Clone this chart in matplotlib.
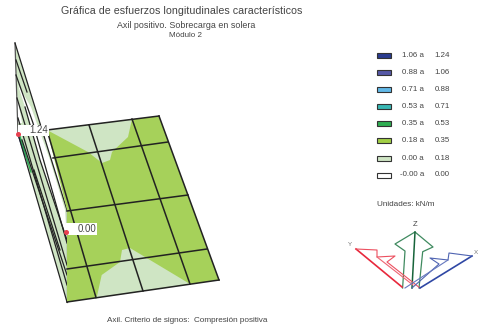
import matplotlib
matplotlib.use('Agg')
import matplotlib.pyplot as plt
from matplotlib.patches import Polygon, Rectangle

plt.rcParams['font.family'] = ['Liberation Sans', 'DejaVu Sans']

# legend
range_low = ['1.06 a', '0.88 a', '0.71 a', '0.53 a', '0.35 a', '0.18 a', '0.00 a', '-0.00 a']
range_high = ['1.24', '1.06', '0.88', '0.71', '0.53', '0.35', '0.18', '0.00']
range_colors = ['#2a3b8f', '#5558a6', '#62b9e8', '#38b8b4', '#2fae52', '#a2cf45', '#cfe5c4', '#ffffff']
legend_y = [55.7, 72.7, 89.3, 106.3, 123.3, 140.7, 158, 175]

# floor slab, picture pixels
floor_shape = [(47, 130), (159, 116), (219, 280), (67, 302), (67, 210)]
floor_light_top = [(47, 130), (132, 119), (128, 137), (112, 152), (110, 160), (102, 163), (88, 152)]
floor_light_bottom = [(96.7, 297.5), (101.7, 275), (120, 262), (122, 250), (130, 248), (190, 284)]
floor_lines = [
    [(47, 130), (159, 116)], [(53, 158), (168, 142)], [(67, 211), (188, 195)],
    [(67, 269), (207, 249)], [(67, 302), (219, 280)], [(159, 116), (219, 280)],
    [(47, 130), (96, 297.5)], [(89, 125), (143, 291)], [(132, 119), (190, 284)],
]

# wall seen edge on
wall_shape = [(15, 43), (67, 210), (67, 302), (18, 134)]
wall_white = [(18, 85), (31, 107), (50, 160), (65, 210), (67, 240), (40, 160), (25, 107)]
wall_white2 = [(16.5, 92), (22, 123), (18, 123)]
wall_lines = [
    [(15, 43), (67, 210)], [(16, 75), (33, 123), (67, 243)], [(17, 98), (67, 265)],
    [(18, 118), (67, 285)], [(18, 134), (67, 302)], [(25, 107), (40, 160), (67, 240)],
    [(16, 60), (27, 92)], [(22, 140), (67, 275)], [(34, 170), (60, 250)],
]
wall_grey = [[(15, 43), (18, 134)], [(67, 210), (67, 302)]]
wall_stripes = [('#2a3b8f', [(18, 134), (25, 156)]), ('#38b8b4', [(19, 134), (28, 163)]),
                ('#2fae52', [(20, 137), (31, 172)])]

# value labels
value_text = ['1.24', '0.00']
value_box = [(17.7, 124.5, 31, 11.5), (65.7, 223.3, 31, 11.7)]
value_dot = [(18, 134), (66, 232.3)]

# axis triad
z_arrow = [(402.6, 288), (405, 251), (395, 244), (415, 232), (433, 247), (422.7, 251.7), (419, 288)]
z_mid = [(415, 232), (412, 288)]
y_outer = [(402, 287), (356, 249)]
y_head = [(356, 249), (377, 250), (377, 257), (395, 256), (387, 262), (420, 288)]
y_mid = [(377, 257), (413, 285)]
x_outer = [(420, 288), (472, 256)]
x_head = [(472, 256), (449, 253), (448, 260), (430, 258), (439, 264), (412, 288)]
x_mid = [(448, 260), (405, 288)]

fig = plt.figure(figsize=(4.78, 3.32), dpi=100)
ax = fig.add_axes([0, 0, 1, 1])
ax.set_xlim(0, 478)
ax.set_ylim(332, 0)
ax.axis('off')

txt = '#444444'

# wall
ax.add_patch(Polygon(wall_shape, fc='#cfe5c4', ec='none', zorder=1))
ax.add_patch(Polygon(wall_white, fc='white', ec='none', zorder=1.2))
ax.add_patch(Polygon(wall_white2, fc='white', ec='none', zorder=1.2))
for c, seg in wall_stripes:
    ax.plot(*zip(*seg), color=c, lw=1.0, zorder=1.3)
for seg in wall_grey:
    ax.plot(*zip(*seg), color='#555555', lw=0.9, zorder=1.4)
for seg in wall_lines:
    ax.plot(*zip(*seg), color='#222222', lw=0.9, zorder=1.5)

# floor
ax.add_patch(Polygon(floor_shape, fc='#a6d15a', ec='none', zorder=2))
ax.add_patch(Polygon(floor_light_top, fc='#cfe5c4', ec='none', zorder=2.1))
ax.add_patch(Polygon(floor_light_bottom, fc='#cfe5c4', ec='none', zorder=2.1))
for seg in floor_lines:
    ax.plot(*zip(*seg), color='#222222', lw=1.1, zorder=3)

# value labels
for t, (x, y, w, h), (dx, dy) in zip(value_text, value_box, value_dot):
    ax.add_patch(Rectangle((x, y), w, h, fc='white', ec='none', zorder=4))
    ax.text(x + w - 0.5, y + h / 2, t, ha='right', va='center', fontsize=6.9, color=txt, zorder=5)
    ax.plot(dx, dy, 'o', ms=2.6, color='#e8404f', zorder=6)

# titles
ax.text(182, 10.5, 'Gráfica de esfuerzos longitudinales característicos', ha='center', va='center',
        fontsize=7.7, color=txt)
ax.text(186, 25.5, 'Axil positivo. Sobrecarga en solera', ha='center', va='center', fontsize=6.4, color=txt)
ax.text(186, 35.5, 'Módulo 2', ha='center', va='center', fontsize=5.8, color=txt)
ax.text(187, 320, 'Axil. Criterio de signos:  Compresión positiva', ha='center', va='center',
        fontsize=5.9, color=txt)

# legend
for lo, hi, c, y in zip(range_low, range_high, range_colors, legend_y):
    ax.add_patch(Rectangle((377.5, y - 2.5), 13.5, 5, fc=c, ec='#333333', lw=0.8))
    ax.text(424, y, lo, ha='right', va='center', fontsize=5.7, color=txt)
    ax.text(450, y, hi, ha='right', va='center', fontsize=5.7, color=txt)
ax.text(377, 205, 'Unidades: kN/m', ha='left', va='center', fontsize=5.9, color=txt)

# triad
ax.plot(*zip(*z_arrow), color='#3f8a5f', lw=0.9)
ax.plot(*zip(*z_mid), color='#17643a', lw=1.1)
ax.plot(*zip(*y_outer), color='#e8283c', lw=1.2)
ax.plot(*zip(*y_head), color='#ec5060', lw=0.8)
ax.plot(*zip(*y_mid), color='#ee6472', lw=0.8)
ax.plot(*zip(*x_outer), color='#2f47a4', lw=1.2)
ax.plot(*zip(*x_head), color='#4f64b2', lw=0.8)
ax.plot(*zip(*x_mid), color='#6678be', lw=0.8)
ax.text(415, 224.5, 'Z', ha='center', va='center', fontsize=5.5, color=txt)
ax.text(350, 244.5, 'Y', ha='center', va='center', fontsize=4.5, color='#777777')
ax.text(476, 252, 'X', ha='center', va='center', fontsize=4.5, color='#777777')

fig.savefig('out.png', dpi=100)
